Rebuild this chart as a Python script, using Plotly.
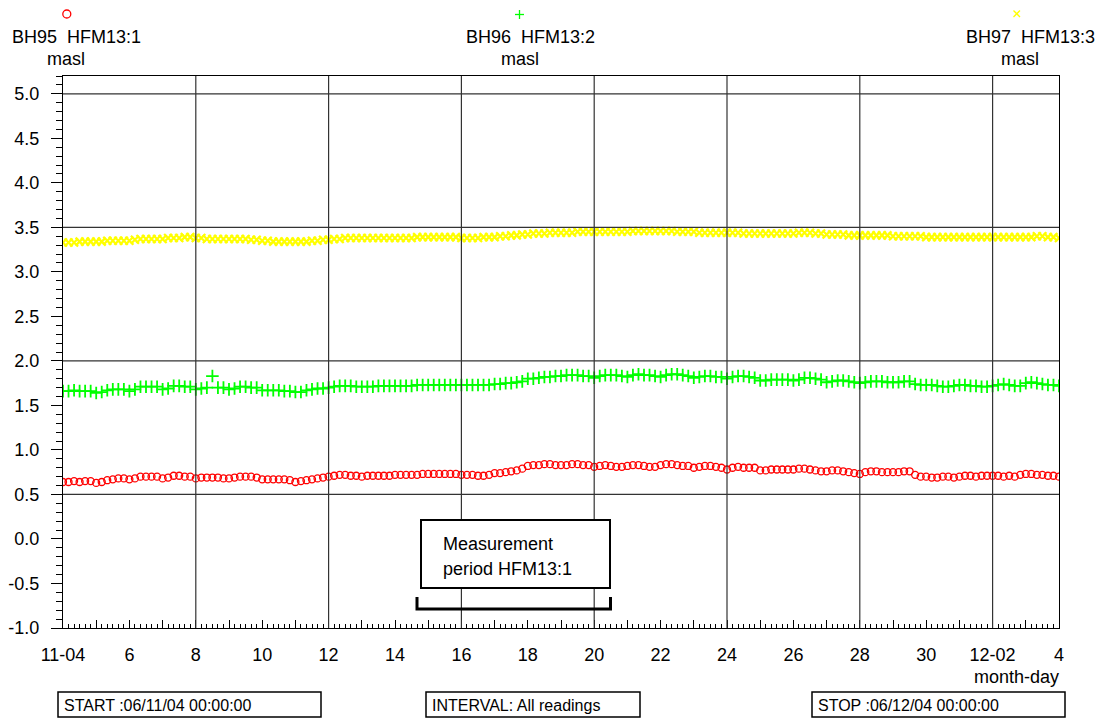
import pandas as pd
import plotly.graph_objects as go

W, H = 1105, 720

# ---------------- data (4-hourly readings, 2004-11-04 00:00 .. 2004-12-04 00:00) ----------------
times = pd.date_range("2004-11-04 00:00", "2004-12-04 00:00", freq="4h")

bh95_hfm13_1 = [
    0.64, 0.64, 0.65, 0.64, 0.65, 0.65,  # 11-04
    0.63, 0.64, 0.66, 0.67, 0.68, 0.68,  # 11-05
    0.67, 0.68, 0.70, 0.70, 0.70, 0.70,  # 11-06
    0.68, 0.69, 0.71, 0.71, 0.70, 0.70,  # 11-07
    0.68, 0.69, 0.69, 0.69, 0.69, 0.68,  # 11-08
    0.68, 0.69, 0.70, 0.70, 0.70, 0.69,  # 11-09
    0.67, 0.67, 0.67, 0.67, 0.67, 0.66,  # 11-10
    0.64, 0.65, 0.66, 0.67, 0.68, 0.69,  # 11-11
    0.70, 0.71, 0.72, 0.72, 0.71, 0.71,  # 11-12
    0.70, 0.71, 0.71, 0.71, 0.71, 0.71,  # 11-13
    0.72, 0.72, 0.72, 0.72, 0.72, 0.73,  # 11-14
    0.73, 0.73, 0.73, 0.73, 0.73, 0.73,  # 11-15
    0.72, 0.72, 0.72, 0.71, 0.71, 0.72,  # 11-16
    0.74, 0.74, 0.75, 0.76, 0.77, 0.79,  # 11-17
    0.82, 0.83, 0.83, 0.84, 0.84, 0.83,  # 11-18
    0.83, 0.83, 0.84, 0.84, 0.83, 0.83,  # 11-19
    0.81, 0.82, 0.83, 0.82, 0.81, 0.81,  # 11-20
    0.82, 0.83, 0.83, 0.82, 0.81, 0.81,  # 11-21
    0.83, 0.84, 0.84, 0.83, 0.82, 0.82,  # 11-22
    0.80, 0.81, 0.82, 0.82, 0.81, 0.80,  # 11-23
    0.78, 0.80, 0.81, 0.80, 0.80, 0.80,  # 11-24
    0.77, 0.77, 0.78, 0.78, 0.78, 0.78,  # 11-25
    0.78, 0.79, 0.79, 0.78, 0.77, 0.76,  # 11-26
    0.76, 0.77, 0.77, 0.76, 0.75, 0.74,  # 11-27
    0.73, 0.75, 0.76, 0.76, 0.75, 0.75,  # 11-28
    0.75, 0.75, 0.76, 0.76, 0.72, 0.70,  # 11-29
    0.70, 0.69, 0.69, 0.70, 0.70, 0.69,  # 11-30
    0.70, 0.71, 0.71, 0.70, 0.71, 0.71,  # 12-01
    0.71, 0.71, 0.70, 0.71, 0.70, 0.72,  # 12-02
    0.73, 0.73, 0.72, 0.72, 0.71, 0.71,  # 12-03
    0.70,                                # 12-04
]

bh96_hfm13_2 = [
    1.66, 1.66, 1.67, 1.66, 1.66, 1.66,  # 11-04
    1.64, 1.65, 1.67, 1.68, 1.68, 1.68,  # 11-05
    1.66, 1.68, 1.71, 1.71, 1.71, 1.71,  # 11-06
    1.68, 1.69, 1.72, 1.72, 1.71, 1.71,  # 11-07
    1.68, 1.69, 1.70, 1.83, 1.70, 1.70,  # 11-08
    1.68, 1.69, 1.71, 1.71, 1.70, 1.70,  # 11-09
    1.67, 1.67, 1.67, 1.67, 1.66, 1.66,  # 11-10
    1.65, 1.65, 1.67, 1.68, 1.69, 1.69,  # 11-11
    1.70, 1.71, 1.72, 1.72, 1.72, 1.71,  # 11-12
    1.71, 1.71, 1.71, 1.72, 1.72, 1.72,  # 11-13
    1.72, 1.72, 1.72, 1.72, 1.73, 1.73,  # 11-14
    1.73, 1.73, 1.73, 1.73, 1.73, 1.73,  # 11-15
    1.73, 1.73, 1.73, 1.73, 1.73, 1.73,  # 11-16
    1.74, 1.74, 1.75, 1.75, 1.76, 1.77,  # 11-17
    1.80, 1.80, 1.81, 1.82, 1.82, 1.83,  # 11-18
    1.83, 1.84, 1.84, 1.84, 1.83, 1.83,  # 11-19
    1.81, 1.83, 1.84, 1.84, 1.84, 1.83,  # 11-20
    1.82, 1.84, 1.85, 1.84, 1.84, 1.83,  # 11-21
    1.82, 1.84, 1.85, 1.85, 1.84, 1.83,  # 11-22
    1.81, 1.82, 1.83, 1.83, 1.82, 1.82,  # 11-23
    1.80, 1.82, 1.83, 1.83, 1.82, 1.81,  # 11-24
    1.78, 1.78, 1.79, 1.79, 1.79, 1.79,  # 11-25
    1.78, 1.79, 1.81, 1.81, 1.80, 1.79,  # 11-26
    1.76, 1.77, 1.78, 1.78, 1.77, 1.76,  # 11-27
    1.75, 1.76, 1.77, 1.77, 1.77, 1.76,  # 11-28
    1.76, 1.76, 1.77, 1.77, 1.74, 1.73,  # 11-29
    1.73, 1.73, 1.72, 1.71, 1.71, 1.72,  # 11-30
    1.73, 1.73, 1.72, 1.72, 1.71, 1.71,  # 12-01
    1.72, 1.73, 1.74, 1.73, 1.72, 1.72,  # 12-02
    1.75, 1.76, 1.75, 1.74, 1.73, 1.73,  # 12-03
    1.72,                                # 12-04
]

bh97_hfm13_3 = [
    3.33, 3.33, 3.33, 3.34, 3.34, 3.34,  # 11-04
    3.34, 3.34, 3.35, 3.35, 3.35, 3.35,  # 11-05
    3.35, 3.36, 3.37, 3.37, 3.37, 3.37,  # 11-06
    3.37, 3.38, 3.38, 3.38, 3.39, 3.39,  # 11-07
    3.38, 3.38, 3.37, 3.37, 3.37, 3.37,  # 11-08
    3.37, 3.37, 3.37, 3.37, 3.36, 3.36,  # 11-09
    3.35, 3.35, 3.34, 3.34, 3.34, 3.34,  # 11-10
    3.34, 3.34, 3.34, 3.35, 3.35, 3.36,  # 11-11
    3.36, 3.37, 3.37, 3.38, 3.38, 3.38,  # 11-12
    3.38, 3.38, 3.38, 3.38, 3.38, 3.38,  # 11-13
    3.38, 3.38, 3.38, 3.38, 3.39, 3.39,  # 11-14
    3.39, 3.39, 3.39, 3.39, 3.39, 3.39,  # 11-15
    3.38, 3.38, 3.38, 3.38, 3.39, 3.39,  # 11-16
    3.39, 3.40, 3.40, 3.41, 3.41, 3.42,  # 11-17
    3.42, 3.43, 3.43, 3.43, 3.44, 3.44,  # 11-18
    3.44, 3.44, 3.44, 3.45, 3.45, 3.45,  # 11-19
    3.45, 3.45, 3.45, 3.45, 3.45, 3.45,  # 11-20
    3.45, 3.46, 3.46, 3.46, 3.46, 3.46,  # 11-21
    3.46, 3.46, 3.46, 3.45, 3.45, 3.45,  # 11-22
    3.45, 3.44, 3.44, 3.44, 3.44, 3.44,  # 11-23
    3.44, 3.44, 3.44, 3.43, 3.43, 3.43,  # 11-24
    3.43, 3.43, 3.43, 3.43, 3.43, 3.43,  # 11-25
    3.43, 3.44, 3.44, 3.44, 3.43, 3.43,  # 11-26
    3.42, 3.42, 3.42, 3.42, 3.41, 3.41,  # 11-27
    3.41, 3.41, 3.41, 3.41, 3.41, 3.41,  # 11-28
    3.40, 3.40, 3.40, 3.40, 3.40, 3.40,  # 11-29
    3.39, 3.39, 3.39, 3.39, 3.39, 3.39,  # 11-30
    3.39, 3.39, 3.39, 3.39, 3.39, 3.39,  # 12-01
    3.39, 3.39, 3.39, 3.39, 3.39, 3.39,  # 12-02
    3.39, 3.39, 3.40, 3.40, 3.39, 3.39,  # 12-03
    3.38,                                # 12-04
]

series_names = ["BH95\u00a0 HFM13:1", "BH96\u00a0 HFM13:2", "BH97\u00a0 HFM13:3"]
unit_label = "masl"

x_tick_dates = pd.date_range("2004-11-04", "2004-12-04", freq="D")
x_tick_labels = ["11-04", "", "6", "", "8", "", "10", "", "12", "", "14", "", "16", "",
                 "18", "", "20", "", "22", "", "24", "", "26", "", "28", "", "30", "",
                 "12-02", "", "4"]
y_tick_values = [-1.0, -0.5, 0.0, 0.5, 1.0, 1.5, 2.0, 2.5, 3.0, 3.5, 4.0, 4.5, 5.0]
y_tick_labels = ["-1.0", "-0.5", "0.0", "0.5", "1.0", "1.5", "2.0", "2.5", "3.0",
                 "3.5", "4.0", "4.5", "5.0"]
x_grid_dates = pd.date_range("2004-11-08", "2004-12-02", freq="4D")
y_grid_values = [0.5, 2.0, 3.5, 5.0]

# ---------------- layout helpers (pixel -> paper, margins are zero) ----------------
def fx(p):
    return p / W

def fy(p):
    return 1 - p / H

PL, PR, PT, PB = 63, 1059, 76, 628
FONT = "Liberation Sans, Arial, sans-serif"

fig = go.Figure()

styles = [
    dict(symbol="circle-open", color="#ff0000", size=7, line=dict(width=1.3, color="#ff0000")),
    dict(symbol="cross-thin-open", color="#00ff00", size=9, line=dict(width=1.8, color="#00ff00")),
    dict(symbol="x-thin-open", color="#ffff00", size=8, line=dict(width=2.2, color="#ffff00")),
]
for name, vals, st in zip(series_names, [bh95_hfm13_1, bh96_hfm13_2, bh97_hfm13_3], styles):
    fig.add_trace(go.Scatter(x=times, y=vals, mode="markers", name=name,
                             marker=st, showlegend=False, hoverinfo="x+y"))

shapes = []
# grid lines
for d in x_grid_dates:
    shapes.append(dict(type="line", xref="x", yref="paper", x0=d, x1=d,
                       y0=fy(PB), y1=fy(PT), line=dict(color="#333333", width=1.2), layer="above"))
for v in y_grid_values:
    shapes.append(dict(type="line", xref="paper", yref="y", x0=fx(PL), x1=fx(PR),
                       y0=v, y1=v, line=dict(color="#333333", width=1.2), layer="above"))

def rect(x0, y0, x1, y1, w):
    return dict(type="rect", xref="paper", yref="paper", x0=fx(x0), x1=fx(x1),
                y0=fy(y1), y1=fy(y0), line=dict(color="black", width=w), fillcolor="white")

# measurement box + bracket
shapes.append(rect(421, 520, 610, 588, 2))
shapes.append(dict(type="path", xref="paper", yref="paper",
                   path=f"M {fx(417)},{fy(597)} L {fx(417)},{fy(609)} L {fx(610.5)},{fy(609)} L {fx(610.5)},{fy(597)}",
                   line=dict(color="black", width=3)))
# bottom info boxes
shapes.append(rect(58, 692, 321, 717, 1.5))
shapes.append(rect(426, 692, 640, 717, 1.5))
shapes.append(rect(812, 692, 1065, 717, 1.5))

# legend markers
shapes.append(dict(type="circle", xref="paper", yref="paper",
                   x0=fx(62.8), x1=fx(70.8), y0=fy(18), y1=fy(10),
                   line=dict(color="#ff0000", width=1.3)))
for (xa, ya, xb, yb) in [(515, 14.5, 524, 14.5), (519.5, 10, 519.5, 19)]:
    shapes.append(dict(type="line", xref="paper", yref="paper", x0=fx(xa), x1=fx(xb),
                       y0=fy(ya), y1=fy(yb), line=dict(color="#00ff00", width=1.3)))
for (xa, ya, xb, yb) in [(1013.5, 10.5, 1020, 17), (1013.5, 17, 1020, 10.5)]:
    shapes.append(dict(type="line", xref="paper", yref="paper", x0=fx(xa), x1=fx(xb),
                       y0=fy(ya), y1=fy(yb), line=dict(color="#ffff00", width=1.3)))

annotations = []

def text(s, x, y, size=18, xanchor="center"):
    annotations.append(dict(text=s, xref="paper", yref="paper", x=fx(x), y=fy(y),
                            xanchor=xanchor, yanchor="middle", showarrow=False,
                            font=dict(family=FONT, size=size, color="black")))

for name, cx_title, cx_unit in zip(series_names, [76, 530, 1030], [66, 520, 1020]):
    text(name, cx_title, 37)
    text(unit_label, cx_unit, 59)

text("Measurement", 441, 544, xanchor="left")
text("period HFM13:1", 441, 569, xanchor="left")
text("month-day", 1061, 677, xanchor="right")
text("START :06/11/04 00:00:00", 62, 705, size=16, xanchor="left")
text("INTERVAL: All readings", 430, 705, size=16, xanchor="left")
text("STOP :06/12/04 00:00:00", 816, 705, size=16, xanchor="left")

fig.update_layout(
    template="none",
    width=W, height=H, autosize=False,
    margin=dict(l=0, r=0, t=0, b=0, pad=0, autoexpand=False),
    paper_bgcolor="white", plot_bgcolor="white",
    font=dict(family=FONT, size=18, color="black"),
    shapes=shapes, annotations=annotations,
    showlegend=False,
    xaxis=dict(
        domain=[fx(PL), fx(PR)], type="date", automargin=False,
        range=["2004-11-04", "2004-12-04"],
        tickmode="array", tickvals=x_tick_dates, ticktext=x_tick_labels,
        ticks="inside", ticklen=8, tickcolor="black", tickwidth=1,
        minor=dict(ticks="inside", ticklen=4, dtick=4 * 3600 * 1000,
                   tick0="2004-11-04", tickcolor="black", showgrid=False),
        showline=True, linecolor="black", linewidth=1, mirror=True,
        showgrid=False, zeroline=False, ticklabelstandoff=10,
        tickfont=dict(size=18),
    ),
    yaxis=dict(
        domain=[fy(PB), fy(PT)], automargin=False,
        range=[-1.0, 5.2],
        tickmode="array", tickvals=y_tick_values, ticktext=y_tick_labels,
        ticks="outside", ticklen=11, tickcolor="black", tickwidth=1,
        minor=dict(ticks="outside", ticklen=6, dtick=0.1, tick0=-1.0, tickcolor="black",
                   showgrid=False),
        showline=True, linecolor="black", linewidth=1, mirror=True,
        showgrid=False, zeroline=False, ticklabelstandoff=8,
        tickfont=dict(size=18),
    ),
)

fig.write_html("out.html")
